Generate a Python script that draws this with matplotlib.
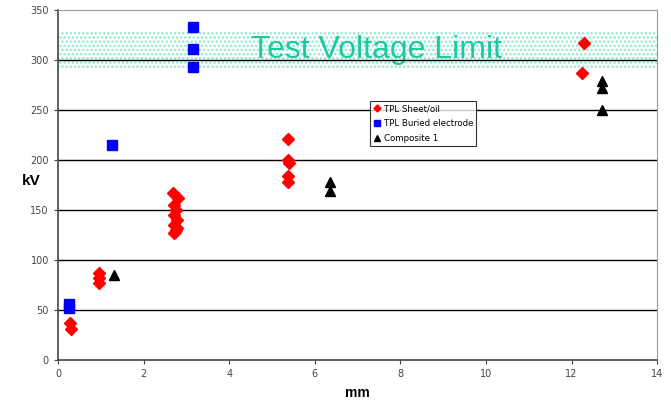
import matplotlib.pyplot as plt

# -- Data (mm, kV)

sheet_x = [0.28, 0.30, 0.97, 0.97, 0.97,
           2.68, 2.80, 2.72, 2.75, 2.70, 2.78, 2.72, 2.76, 2.70, 2.74, 2.78,
           5.38, 5.38, 5.40, 5.38, 5.38,
           12.28, 12.25]
sheet_y = [37, 31, 87, 82, 77,
           167, 162, 155, 150, 145, 140, 135, 130, 127, 128, 132,
           221, 200, 197, 184, 178,
           317, 287]

buried_x = [0.25, 0.25, 1.27, 3.15, 3.15, 3.15]
buried_y = [56, 52, 215, 333, 311, 293]

comp_x = [1.30, 6.35, 6.35, 12.70, 12.70, 12.70]
comp_y = [85, 178, 169, 279, 272, 250]

limit_low = 292
limit_high = 328

teal = '#1dc9a0'

plt.rcParams['hatch.linewidth'] = 1.2

fig = plt.figure(figsize=(6.71, 4.03), dpi=100)
ax = fig.add_axes([0.0864, 0.107, 0.893, 0.868])

ax.axhspan(limit_low, limit_high, facecolor='none', edgecolor='#8fe6cf',
           hatch='....', linewidth=0, zorder=0)
ax.text(7.45, 302, 'Test Voltage Limit', color=teal, fontsize=23,
        ha='center', va='baseline', family='Liberation Sans', zorder=1)

for yv in range(50, 350, 50):
    ax.axhline(yv, color='black', linewidth=1.0, zorder=1)

ax.plot(sheet_x, sheet_y, 'D', color='red', markersize=6.5,
        linestyle='none', label='TPL Sheet/oil', zorder=3)
ax.plot(buried_x, buried_y, 's', color='blue', markersize=7.5,
        linestyle='none', label='TPL Buried electrode', zorder=3)
ax.plot(comp_x, comp_y, '^', color='black', markersize=7.5,
        linestyle='none', label='Composite 1', zorder=3)

ax.set_xlim(0, 14)
ax.set_ylim(0, 350)
ax.set_xticks(range(0, 15, 2))
ax.set_yticks(range(0, 351, 50))
ax.tick_params(labelsize=7, length=3, direction='out', colors='#444444')

for side in ['left', 'bottom']:
    ax.spines[side].set_color('#444444')
    ax.spines[side].set_linewidth(1.2)
for side in ['top', 'right']:
    ax.spines[side].set_color('#999999')

ax.set_xlabel('mm', fontsize=10, fontweight='bold', family='Liberation Sans')
ax.set_ylabel('kV', fontsize=11, fontweight='bold', rotation=0,
              family='Liberation Sans', labelpad=14)
ax.yaxis.set_label_coords(-0.045, 0.49)
ax.xaxis.set_label_coords(0.5, -0.075)

leg = ax.legend(loc='upper left', bbox_to_anchor=(0.521, 0.739),
                fontsize=6.2, markerscale=0.55, frameon=True, fancybox=False,
                edgecolor='black', handletextpad=0.2, borderpad=0.35,
                labelspacing=0.65, handlelength=1.0, borderaxespad=0)
leg.get_frame().set_linewidth(0.8)

plt.savefig('out.png', dpi=100)
